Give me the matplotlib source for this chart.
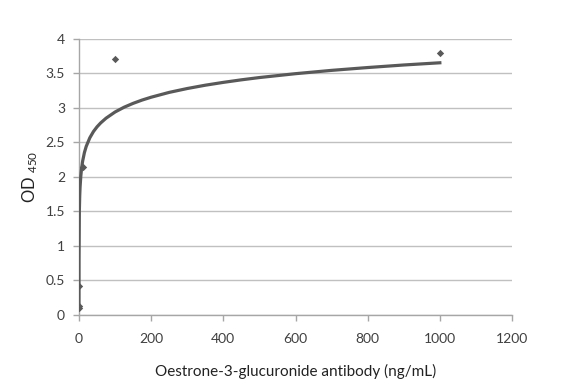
import matplotlib.pyplot as plt

# measured points (concentration ng/mL, OD450)
conc = [0.01, 0.1, 1, 10, 100, 1000]
od = [0.1, 0.13, 0.42, 2.14, 3.71, 3.79]

# trend curve
curve_x = [0.01, 0.1, 1, 2, 3, 5, 7, 10, 15, 20, 30, 40, 50, 60, 75, 100, 125,
           150, 175, 200, 250, 300, 350, 400, 450, 500, 600, 700, 800, 900, 1000]
curve_y = [0.08, 0.796, 1.51, 1.725, 1.851, 2.009, 2.113, 2.224, 2.350, 2.439,
           2.564, 2.654, 2.723, 2.779, 2.848, 2.938, 3.007, 3.063, 3.111, 3.152,
           3.222, 3.278, 3.326, 3.367, 3.404, 3.437, 3.493, 3.541, 3.582, 3.619,
           3.651]

xticks = [0, 200, 400, 600, 800, 1000, 1200]
yticks = [0, 0.5, 1, 1.5, 2, 2.5, 3, 3.5, 4]

plt.rcParams['font.family'] = ['Lato', 'DejaVu Sans']
plt.rcParams['mathtext.default'] = 'regular'

fig = plt.figure(figsize=(5.82, 3.82), dpi=100)
ax = fig.add_axes([79 / 582, 1 - 314.7 / 382, (512 - 79) / 582, (314.7 - 38.7) / 382])

grey = '#595959'
ax.plot(curve_x, curve_y, color=grey, lw=2.3, zorder=3, solid_joinstyle='round')
ax.scatter(conc, od, marker='D', s=14, color=grey, zorder=4, linewidths=0)

ax.set_xlim(0, 1200)
ax.set_ylim(0, 4)
ax.set_xticks(xticks)
ax.set_xticklabels([str(t) for t in xticks])
ax.set_yticks(yticks)
ax.set_yticklabels([f'{t:g}' for t in yticks])

ax.grid(axis='y', color='#c0c0c0', lw=1)
ax.set_axisbelow(True)
for s in ['top', 'right']:
    ax.spines[s].set_visible(False)
for s in ['left', 'bottom']:
    ax.spines[s].set_color('#a6a6a6')
    ax.spines[s].set_linewidth(1)
ax.tick_params(colors='#a6a6a6', labelcolor='#404040', labelsize=10, length=4, width=1)
ax.tick_params(axis='x', pad=9)
ax.tick_params(axis='y', pad=6)

ax.set_xlabel('Oestrone-3-glucuronide antibody (ng/mL)', fontsize=11, color='#222222', labelpad=14)
ax.set_ylabel(r'OD $_{450}$', fontsize=12, color='#222222', labelpad=4)

fig.savefig('out.png', dpi=100)
